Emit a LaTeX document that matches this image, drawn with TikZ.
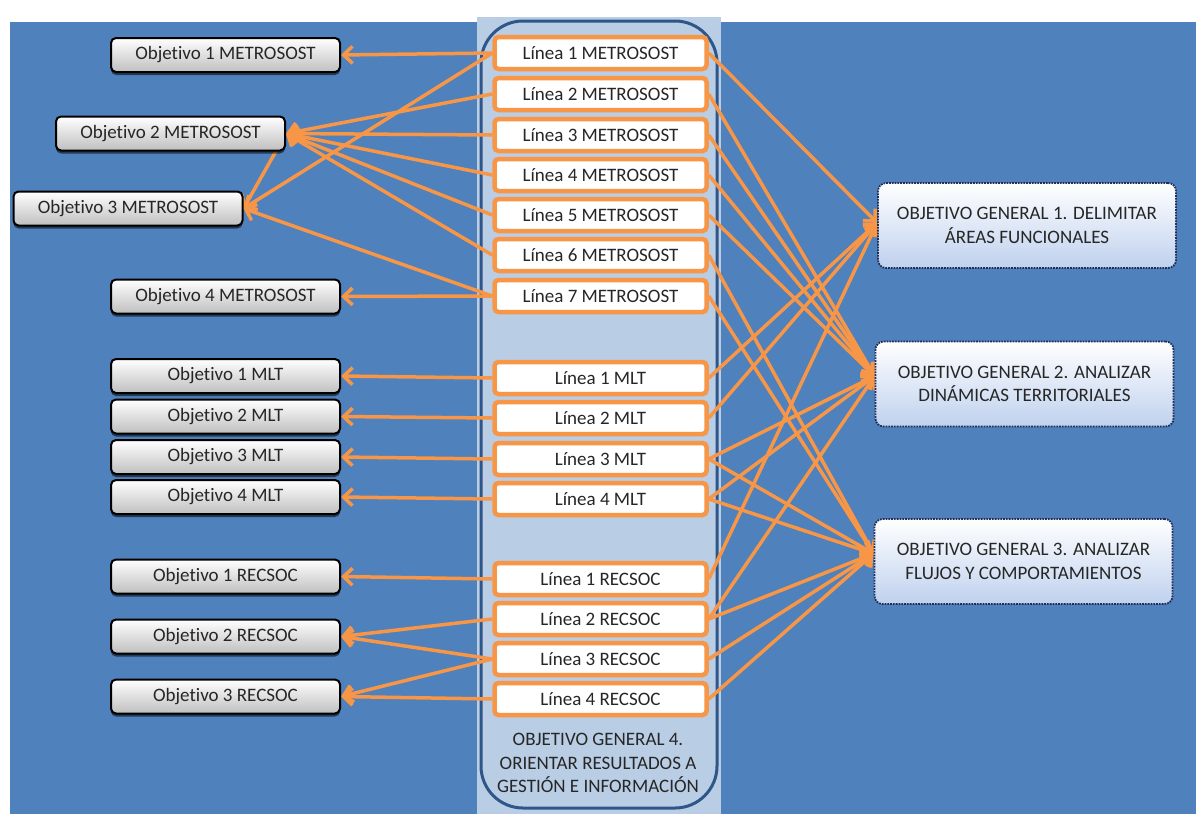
\documentclass[tikz,border=0pt]{standalone}
\usepackage{fontspec}
\setmainfont[Ligatures=NoCommon]{Carlito}
\usetikzlibrary{arrows.meta,shadows}
\definecolor{bgblue}{HTML}{4F81BD}
\definecolor{colblue}{HTML}{B9CDE5}
\definecolor{colline}{HTML}{2F5689}
\definecolor{orng}{HTML}{F79646}
\definecolor{txt}{HTML}{262626}
\definecolor{ogblue}{HTML}{BFD1EE}
\definecolor{navy}{HTML}{1F2F5A}
\pgfdeclarelayer{back}
\pgfdeclarelayer{edges}
\pgfsetlayers{back,edges,main}
\begin{document}
\begin{tikzpicture}[x=1pt,y=-1pt,
  font=\fontsize{19}{23.5}\selectfont,
  lbox/.style={draw=black, line width=2pt, rounded corners=5pt, top color=white, bottom color=gray!50,
    minimum width=229pt, minimum height=34pt, inner sep=0pt, text=txt,
    drop shadow={shadow xshift=0pt, shadow yshift=-3pt, fill=black, opacity=0.55}},
  linebox/.style={draw=orng, line width=4.5pt, fill=white, rounded corners=4pt,
    minimum width=212pt, minimum height=32pt, inner sep=0pt, text=txt},
  ogbox/.style={draw=navy, densely dotted, line width=1.8pt, rounded corners=8pt,
    top color=white, bottom color=ogblue, minimum width=298pt, minimum height=85pt,
    inner sep=0pt, align=center, text=txt},
  conn/.style={draw=orng, line width=3.5pt, -{Straight Barb[length=9pt,width=17pt]}}]
\useasboundingbox (0,0) rectangle (1196,814);
\begin{pgfonlayer}{back}
  \fill[white] (0,0) rectangle (1196,814);
  \fill[bgblue] (10,22) rectangle (1196,814);
  \fill[colblue] (477,17) rectangle (721,814);
  \draw[colline, line width=3pt, fill=colblue, rounded corners=42pt] (481,21) rectangle (717,808);
\end{pgfonlayer}

% Lineas
\node[linebox] (l1m) at (600.5,53) {Línea 1 METROSOST};
\node[linebox] (l2m) at (600.5,94) {Línea 2 METROSOST};
\node[linebox] (l3m) at (600.5,135) {Línea 3 METROSOST};
\node[linebox] (l4m) at (600.5,175) {Línea 4 METROSOST};
\node[linebox] (l5m) at (600.5,215) {Línea 5 METROSOST};
\node[linebox] (l6m) at (600.5,255) {Línea 6 METROSOST};
\node[linebox] (l7m) at (600.5,296) {Línea 7 METROSOST};
\node[linebox] (l1t) at (600.5,378) {Línea 1 MLT};
\node[linebox] (l2t) at (600.5,418) {Línea 2 MLT};
\node[linebox] (l3t) at (600.5,459) {Línea 3 MLT};
\node[linebox] (l4t) at (600.5,499) {Línea 4 MLT};
\node[linebox] (l1r) at (600.5,579) {Línea 1 RECSOC};
\node[linebox] (l2r) at (600.5,619) {Línea 2 RECSOC};
\node[linebox] (l3r) at (600.5,659) {Línea 3 RECSOC};
\node[linebox] (l4r) at (600.5,699) {Línea 4 RECSOC};
\node[text=txt, align=center] (og4) at (598,763) {OBJETIVO GENERAL 4.\\ORIENTAR RESULTADOS A\\GESTIÓN E INFORMACIÓN};

% Objetivos
\node[lbox] (o1m) at (225.5,55) {Objetivo 1 METROSOST};
\node[lbox] (o2m) at (170.5,133.5) {Objetivo 2 METROSOST};
\node[lbox] (o3m) at (128,208.5) {Objetivo 3 METROSOST};
\node[lbox] (o4m) at (225.5,296.5) {Objetivo 4 METROSOST};
\node[lbox] (o1t) at (225.5,376) {Objetivo 1 MLT};
\node[lbox] (o2t) at (225.5,416.5) {Objetivo 2 MLT};
\node[lbox] (o3t) at (225.5,457) {Objetivo 3 MLT};
\node[lbox] (o4t) at (225.5,497) {Objetivo 4 MLT};
\node[lbox] (o1r) at (225.5,576.5) {Objetivo 1 RECSOC};
\node[lbox] (o2r) at (225.5,636.5) {Objetivo 2 RECSOC};
\node[lbox] (o3r) at (225.5,696.5) {Objetivo 3 RECSOC};

% Objetivos generales
\node[ogbox] (og1) at (1027,225.5) {OBJETIVO GENERAL 1. DELIMITAR\\ÁREAS FUNCIONALES};
\node[ogbox] (og2) at (1024.5,384) {OBJETIVO GENERAL 2. ANALIZAR\\DINÁMICAS TERRITORIALES};
\node[ogbox] (og3) at (1023.5,561.5) {OBJETIVO GENERAL 3. ANALIZAR\\FLUJOS Y COMPORTAMIENTOS};

\begin{pgfonlayer}{edges}
  % left side
  \draw[conn] (l1m.west) -- (o1m.east);
  \draw[conn] (l1m.west) -- (o3m.east);
  \draw[conn] (l2m.west) -- (o2m.east);
  \draw[conn] (l3m.west) -- (o2m.east);
  \draw[conn] (l4m.west) -- (o2m.east);
  \draw[conn] (l5m.west) -- (o2m.east);
  \draw[conn] (l6m.west) -- (o2m.east);
  \draw[conn] (o2m.east) -- (o3m.east);
  \draw[conn] (l7m.west) -- (o3m.east);
  \draw[conn] (l7m.west) -- (o4m.east);
  \draw[conn] (l1t.west) -- (o1t.east);
  \draw[conn] (l2t.west) -- (o2t.east);
  \draw[conn] (l3t.west) -- (o3t.east);
  \draw[conn] (l4t.west) -- (o4t.east);
  \draw[conn] (l1r.west) -- (o1r.east);
  \draw[conn] (l2r.west) -- (o2r.east);
  \draw[conn] (l3r.west) -- (o2r.east);
  \draw[conn] (l3r.west) -- (o3r.east);
  \draw[conn] (l4r.west) -- (o3r.east);
  % right side
  \draw[conn] (l1m.east) -- (og1.179);
  \draw[conn] (l2m.east) -- (og2.177);
  \draw[conn] (l3m.east) -- (og2.177);
  \draw[conn] (l4m.east) -- (og2.177);
  \draw[conn] (l5m.east) -- (og2.177);
  \draw[conn] (l6m.east) -- (og3.177);
  \draw[conn] (l7m.east) -- (og3.177);
  \draw[conn] (l1t.east) -- (og1.179);
  \draw[conn] (l2t.east) -- (og1.179);
  \draw[conn] (l3t.east) -- (og2.177);
  \draw[conn] (l3t.east) -- (og3.177);
  \draw[conn] (l4t.east) -- (og2.177);
  \draw[conn] (l4t.east) -- (og3.177);
  \draw[conn] (l1r.east) -- (og1.179);
  \draw[conn] (l2r.east) -- (og2.177);
  \draw[conn] (l2r.east) -- (og3.177);
  \draw[conn] (l3r.east) -- (og3.177);
  \draw[conn] (l4r.east) -- (og3.177);
\end{pgfonlayer}
\end{tikzpicture}
\end{document}
